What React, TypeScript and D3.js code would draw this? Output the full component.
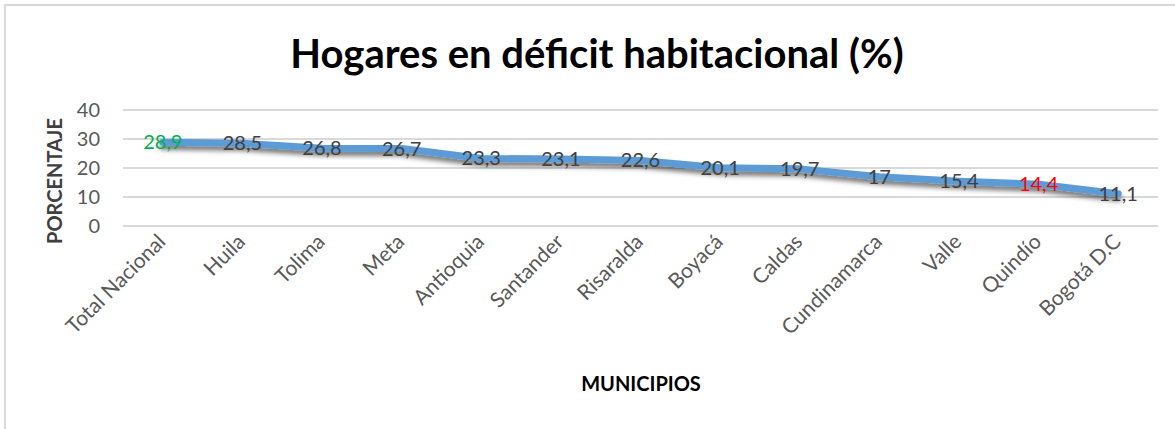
import React from "react";
import * as d3 from "d3";

const categories = [
  "Total Nacional", "Huila", "Tolima", "Meta", "Antioquia", "Santander",
  "Risaralda", "Boyacá", "Caldas", "Cundinamarca", "Valle", "Quindío", "Bogotá D.C",
];
const values = [28.9, 28.5, 26.8, 26.7, 23.3, 23.1, 22.6, 20.1, 19.7, 17, 15.4, 14.4, 11.1];
const labelColors = ["#00B050", "#404040", "#404040", "#404040", "#404040", "#404040", "#404040", "#404040", "#404040", "#404040", "#404040", "#FF0000", "#404040"];
const yTicks = [0, 10, 20, 30, 40];

const W = 1175;
const H = 429;
const FONT = "Lato, 'Open Sans', sans-serif";

export default function App() {
  const x = d3.scaleBand<string>().domain(categories).range([123, 1158]).padding(0);
  const y = d3.scaleLinear().domain([0, 40]).range([226, 110]);
  const cx = (c: string) => (x(c) as number) + x.bandwidth() / 2;
  const line = d3
    .line<number>()
    .x((_, i) => cx(categories[i]))
    .y((d) => y(d));

  return (
    <svg
      width={W}
      height={H}
      style={{ position: "absolute", left: 0, top: 0, background: "#fff" }}
      fontFamily={FONT}
    >
      <defs>
        <filter id="shadow" x="-10%" y="-50%" width="120%" height="200%">
          <feDropShadow dx="0" dy="4" stdDeviation="2.5" floodColor="#000" floodOpacity="0.55" />
        </filter>
      </defs>
      <rect x={5} y={5} width={1300} height={600} fill="#fff" stroke="#d9d9d9" strokeWidth={2} />
      <text x={597} y={68} textAnchor="middle" fontSize={40} fontWeight="bold" fill="#000">
        Hogares en déficit habitacional (%)
      </text>
      {yTicks.map((t) => (
        <g key={t}>
          <line x1={123} x2={1158} y1={y(t)} y2={y(t)} stroke="#d9d9d9" strokeWidth={2} />
          <text x={100} y={y(t)} dy="0.35em" textAnchor="end" fontSize={20} fill="#595959">
            {t}
          </text>
        </g>
      ))}
      <text
        transform={`translate(62,181) rotate(-90)`}
        textAnchor="middle"
        fontSize={20}
        fontWeight="bold"
        fill="#404040"
      >
        PORCENTAJE
      </text>
      <path
        d={line(values) || ""}
        fill="none"
        stroke="#5B9BD5"
        strokeWidth={7}
        strokeLinecap="round"
        strokeLinejoin="round"
        filter="url(#shadow)"
      />
      {values.map((v, i) => (
        <text
          key={i}
          x={cx(categories[i])}
          y={y(v)}
          dy="0.35em"
          textAnchor="middle"
          fontSize={20}
          fill={labelColors[i]}
        >
          {String(v).replace(".", ",")}
        </text>
      ))}
      {categories.map((c) => (
        <text
          key={c}
          transform={`translate(${cx(c) + 4},243) rotate(-45)`}
          textAnchor="end"
          fontSize={21}
          fill="#595959"
        >
          {c}
        </text>
      ))}
      <text x={641} y={391} textAnchor="middle" fontSize={20} fontWeight="bold" fill="#000">
        MUNICIPIOS
      </text>
    </svg>
  );
}
